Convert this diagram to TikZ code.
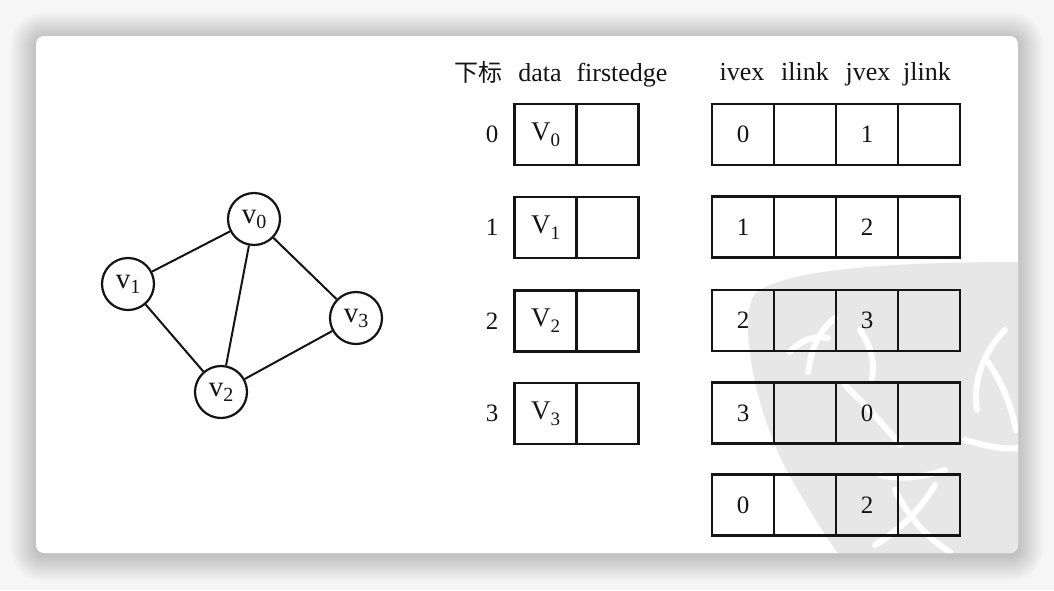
\documentclass[tikz,border=0pt]{standalone}
\usepackage{fontspec}
\setmainfont{Liberation Serif}
\newfontfamily\cjk{Noto Sans CJK SC}
% lowered subscript digits for the vertex names
\newcommand{\vsub}[1]{\raisebox{-6pt}{\fontsize{19}{19}\selectfont #1}}
\newcommand{\gsub}[1]{\raisebox{-5pt}{\fontsize{20}{20}\selectfont #1}}
\definecolor{pagebg}{RGB}{246,246,246}
\definecolor{seal}{RGB}{231,231,231}
\definecolor{ink}{RGB}{20,20,20}
\begin{document}
\begin{tikzpicture}[x=1pt,y=-1pt,
  inkline/.style={draw=ink, line width=2.2pt},
  cell/.style={inkline, rectangle, minimum width=62pt, minimum height=61pt,
    inner sep=0pt, text=ink, font=\fontsize{25}{25}\selectfont},
  vcell/.style={cell, font=\fontsize{27}{27}\selectfont},
  vertex/.style={inkline, circle, minimum size=52pt, inner sep=0pt, text=ink,
    font=\fontsize{29}{29}\selectfont},
  edge/.style={draw=ink, line width=2pt},
  head/.style={anchor=base, inner sep=0pt, text=ink, font=\fontsize{26}{26}\selectfont},
  idx/.style={inner sep=0pt, text=ink, font=\fontsize{25}{25}\selectfont},
  stroke/.style={draw=white, line width=6pt, line cap=round}]

% page, soft shadow and card
\useasboundingbox (0,0) rectangle (1054,590);
\fill[pagebg] (0,0) rectangle (1054,590);
\foreach \i in {1,...,26}{
  \pgfmathsetmacro\rr{8+\i}
  \fill[black, opacity=0.0065, rounded corners=\rr pt]
    (36-\i,36-\i+2) rectangle (1018+\i,553+\i+3);
}
\fill[white, rounded corners=8pt] (36,36) rectangle (1018,553);

% faint seal stamp in the lower right
\begin{scope}
  \clip[rounded corners=8pt] (36,36) rectangle (1018,553);
  \fill[seal] (1020,262) .. controls (900,262) and (790,268) .. (757,292)
    .. controls (735,310) and (755,420) .. (795,485)
    .. controls (812,515) and (828,540) .. (840,556) -- (1020,556) -- cycle;
  \draw[stroke] (808,372) .. controls (812,345) and (820,330) .. (835,318);
  \draw[stroke] (790,352) .. controls (800,340) and (815,335) .. (828,338);
  \draw[stroke] (845,385) .. controls (860,400) and (880,420) .. (900,445);
  \draw[stroke] (860,330) .. controls (870,345) and (875,360) .. (872,378);
  \draw[stroke] (880,475) .. controls (900,480) and (920,478) .. (945,470);
  \draw[stroke] (895,490) .. controls (910,520) and (930,540) .. (950,552);
  \draw[stroke] (935,485) .. controls (920,510) and (900,530) .. (875,545);
  \draw[stroke] (1005,330) .. controls (985,350) and (972,380) .. (977,410);
  \draw[stroke] (988,362) .. controls (1000,380) and (1010,400) .. (1016,430);
  \draw[stroke] (965,440) .. controls (985,445) and (1000,450) .. (1018,448);
\end{scope}

% undirected graph
\node[vertex] (v0) at (254,219) {v\gsub{0}};
\node[vertex] (v1) at (128,284) {v\gsub{1}};
\node[vertex] (v2) at (221,392) {v\gsub{2}};
\node[vertex] (v3) at (356,318) {v\gsub{3}};
\draw[edge] (v0) -- (v1);
\draw[edge] (v0) -- (v2);
\draw[edge] (v0) -- (v3);
\draw[edge] (v1) -- (v2);
\draw[edge] (v2) -- (v3);

% column headings
\node[head, font=\cjk\fontsize{24}{24}\selectfont] (hidx) at (478,81) {下标};
\node[head] (hdata) at (540,81) {data};
\node[head] (hfirst) at (622,81) {firstedge};
\node[head] (hivex) at (742,80) {ivex};
\node[head] (hilink) at (805,80) {ilink};
\node[head] (hjvex) at (868,80) {jvex};
\node[head] (hjlink) at (927,80) {jlink};

% vertex table
\foreach \r/\y in {0/134.5, 1/227.5, 2/321, 3/413.5}{
  \node[idx] (i\r) at (492,\y) {\r};
  \node[vcell] (d\r) at (545.5,\y) {V\vsub{\r}};
  \node[cell] (f\r) at (607.5,\y) {};
}

% edge table
\foreach \r/\y/\a/\b in {0/134.5/0/1, 1/227/1/2, 2/320.5/2/3, 3/413/3/0, 4/505/0/2}{
  \node[cell] (iv\r) at (743,\y) {\a};
  \node[cell] (il\r) at (805,\y) {};
  \node[cell] (jv\r) at (867,\y) {\b};
  \node[cell] (jl\r) at (929,\y) {};
}
\end{tikzpicture}
\end{document}
